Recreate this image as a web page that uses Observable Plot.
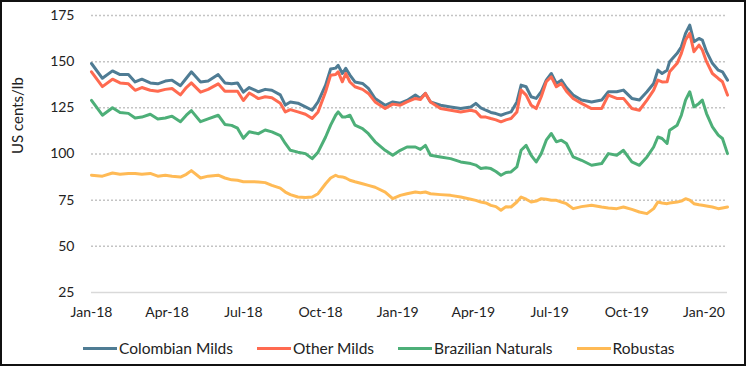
<!DOCTYPE html>
<html>
<head>
<meta charset="utf-8">
<script src="https://cdn.jsdelivr.net/npm/d3@7"></script>
<script src="https://cdn.jsdelivr.net/npm/@observablehq/plot@0.6"></script>
<style>
  html, body { margin: 0; padding: 0; background: #fff; }
  #frame { width: 746px; height: 366px; box-sizing: border-box; border: 2px solid #111; background: #fff; font-family: Lato, sans-serif; color: #222; overflow: hidden; }
  #legend { height: 32px; display: flex; align-items: center; padding-left: 81px; gap: 24px; font-size: 15.5px; }
  .item { display: flex; align-items: center; }
  .swatch { width: 34px; height: 3px; margin-right: 2px; }
</style>
</head>
<body>
<div id="frame"><div id="chart"></div><div id="legend"></div></div>
<script>
const seriesNames = ["Colombian Milds", "Other Milds", "Brazilian Naturals", "Robustas"];
const seriesColors = ["#4F7C94", "#FF6A50", "#4DAF78", "#FFBA55"];

const dates = [
  "2018-01-01","2018-01-14","2018-01-26","2018-02-04","2018-02-14","2018-02-22","2018-03-02","2018-03-12","2018-03-21","2018-03-30",
  "2018-04-07","2018-04-17","2018-04-24","2018-04-30","2018-05-11","2018-05-20","2018-06-01","2018-06-09","2018-06-17","2018-06-24",
  "2018-07-01","2018-07-08","2018-07-19","2018-07-27","2018-08-04","2018-08-14","2018-08-20","2018-08-26","2018-09-04","2018-09-13",
  "2018-09-21","2018-09-28","2018-10-07","2018-10-13","2018-10-19","2018-10-22","2018-10-27","2018-10-31","2018-11-05","2018-11-11",
  "2018-11-20","2018-11-27","2018-12-05","2018-12-17","2018-12-26","2019-01-04","2019-01-12","2019-01-22","2019-01-28","2019-02-03",
  "2019-02-09","2019-02-21","2019-03-05","2019-03-17","2019-03-29","2019-04-04","2019-04-10","2019-04-16","2019-04-22","2019-04-28",
  "2019-05-04","2019-05-10","2019-05-16","2019-05-23","2019-05-28","2019-06-03","2019-06-09","2019-06-15","2019-06-21","2019-06-27",
  "2019-07-03","2019-07-09","2019-07-15","2019-07-21","2019-07-29","2019-08-08","2019-08-20","2019-09-01","2019-09-09","2019-09-19",
  "2019-09-27","2019-10-07","2019-10-16","2019-10-25","2019-11-02","2019-11-07","2019-11-12","2019-11-18","2019-11-21","2019-11-30",
  "2019-12-05","2019-12-10","2019-12-15","2019-12-20","2019-12-26","2019-12-30","2020-01-04","2020-01-11","2020-01-18","2020-01-23",
  "2020-01-29"
];

const colombianMilds = [
  149,141,145,143,143,139,140.5,138.5,138,139.5,
  140,137,141,144.5,139,139.5,143,138.5,138,138.5,
  133.5,136,133.7,135,134.5,132,126.5,128.2,127.5,125.5,
  123.7,128.2,137.3,146,146.5,148,143.6,146.4,142.7,139,
  138.2,135.5,130,126.4,128.2,127.5,129,131.9,130.1,132.8,
  128.2,126.4,125.5,124.6,125.5,127.4,125,123.7,122.5,121.9,
  121,122,122.8,128.2,137.3,136.4,131,130.1,133.7,140,
  143.6,138.2,140,136,131.9,129.2,128.2,129.2,133.7,133.7,
  134.6,130.1,129.2,133.7,138.2,145.4,143.6,145.4,150,154.5,
  158.1,165.3,169.8,160.8,162.6,161.7,155.4,149.1,145.4,144.5,
  140
];
const otherMilds = [
  144.5,136.5,140.5,138.5,138,134.5,136,134.5,134,135,
  135.5,132,136,138.5,133.5,135,138,134,134,134,
  129,133,130,131,130.5,127.5,122.8,124,122.8,121.5,
  119.2,122.8,133.7,142.7,143,144.5,139.1,143.6,139,136.4,
  135,132.8,128.2,124.6,127,126.4,128.2,130.1,129.5,132.8,
  128.2,124.6,123.7,122.8,123.7,123,120.1,120,119.2,118.5,
  117.4,118.5,119.2,122.8,134.6,131.9,126.4,124.6,131,139.1,
  141.8,136.4,138.2,134,130.1,127.4,124.6,124.6,131.9,130.1,
  130.1,124.6,123.7,129.2,134.6,140,139,139.1,144.5,149.1,
  154.5,161.7,165.3,155.4,159,156.3,150,143.6,140.9,139.1,
  131.9
];
const brazilianNaturals = [
  129,121,125,122.5,122,119.5,120,121.5,119,119.5,
  120.5,117.5,121,123.5,117.5,119,121,116,115.5,114,
  108.5,112,111,113,112,110,105.7,102,101,100.2,
  97.5,101,109.2,115.6,121,122.8,120,120.1,121,115.6,
  113.8,111,106.6,102,99.3,102,103.8,103.8,102.5,104.7,
  99.3,98.4,97.5,95.7,94.8,94,92.1,92.5,92.1,90.5,
  88.5,90,90.3,93,102,104.7,99.3,95.7,100.2,107.5,
  111.1,106.6,107.5,105.7,98.4,96.6,93.9,94.8,100.2,99.3,
  102,95.7,93.9,98.4,103.8,109.2,108.4,105.7,112.9,115.6,
  121,129.2,133.7,125.5,127.4,129.2,121.9,114.7,110.2,108.4,
  100.2
];
const robustas = [
  88.5,88,89.7,89,89.5,89.5,89,89.5,88,88.5,
  88,87.5,89,91,87,88,88.5,87,86,85.8,
  85,85,84.9,84.5,83,81.5,79.4,78,76.7,76.5,
  76.7,78.5,83.9,87,88.5,87.8,87.6,87,85.8,85,
  83.9,83,82,79.4,75.8,77.6,78.5,79.4,79,79.4,
  78.5,78,77.6,76.7,75.5,74.9,74,73.5,72.2,71.5,
  69.5,71.5,71.3,74,76.7,75.5,74,74.5,75.8,75.5,
  75,74.9,74,73.1,70.4,71.5,72.2,71.3,70.8,70.4,
  71.3,70,68.6,67.7,70.4,74,73.5,73.1,73.5,74,
  74.5,75.8,75,73.1,72.5,72.2,71.8,71.3,70.4,70.8,
  71.3
];

const yTicks = [25, 50, 75, 100, 125, 150, 175];
const xTickLabels = ["2018-01-01","2018-04-01","2018-07-01","2018-10-01","2019-01-01","2019-04-01","2019-07-01","2019-10-01","2020-01-01"];
const yLabel = "US cents/lb";

const valueArrays = [colombianMilds, otherMilds, brazilianNaturals, robustas];
const rows = [];
seriesNames.forEach((name, i) => {
  dates.forEach((d, j) => rows.push({series: name, date: new Date(d + "T00:00:00Z"), value: valueArrays[i][j]}));
});

const chart = Plot.plot({
  width: 742,
  height: 330,
  marginLeft: 89,
  marginRight: 17,
  marginTop: 13,
  marginBottom: 40,
  style: {fontFamily: "Lato, sans-serif", fontSize: "14px", color: "#222", background: "#fff"},
  x: {type: "utc", domain: [new Date(dates[0] + "T00:00:00Z"), new Date(dates[dates.length - 1] + "T00:00:00Z")]},
  y: {domain: [25, 175]},
  color: {domain: seriesNames, range: seriesColors},
  marks: [
    Plot.gridY(yTicks.filter(v => v > 25), {stroke: "#c4c4c4", strokeOpacity: 1, strokeWidth: 1.5, strokeDasharray: "2,2"}),
    Plot.ruleY([25], {stroke: "#d9d9d9", strokeWidth: 1.5}),
    Plot.axisY({ticks: yTicks, tickSize: 0, tickPadding: 17, label: null}),
    Plot.axisX({ticks: xTickLabels.map(d => new Date(d + "T00:00:00Z")), tickFormat: d3.utcFormat("%b-%y"), tickSize: 0, tickPadding: 15, label: null}),
    Plot.text([yLabel], {frameAnchor: "left", dx: -73, rotate: -90, fontSize: 15, fill: "#222"}),
    Plot.line(rows, {x: "date", y: "value", z: "series", stroke: "series", strokeWidth: 3, curve: "linear"})
  ]
});
document.getElementById("chart").appendChild(chart);

const legend = document.getElementById("legend");
seriesNames.forEach((name, i) => {
  const item = document.createElement("div");
  item.className = "item";
  const sw = document.createElement("span");
  sw.className = "swatch";
  sw.style.background = seriesColors[i];
  const t = document.createElement("span");
  t.textContent = name;
  item.appendChild(sw);
  item.appendChild(t);
  legend.appendChild(item);
});
</script>
</body>
</html>
